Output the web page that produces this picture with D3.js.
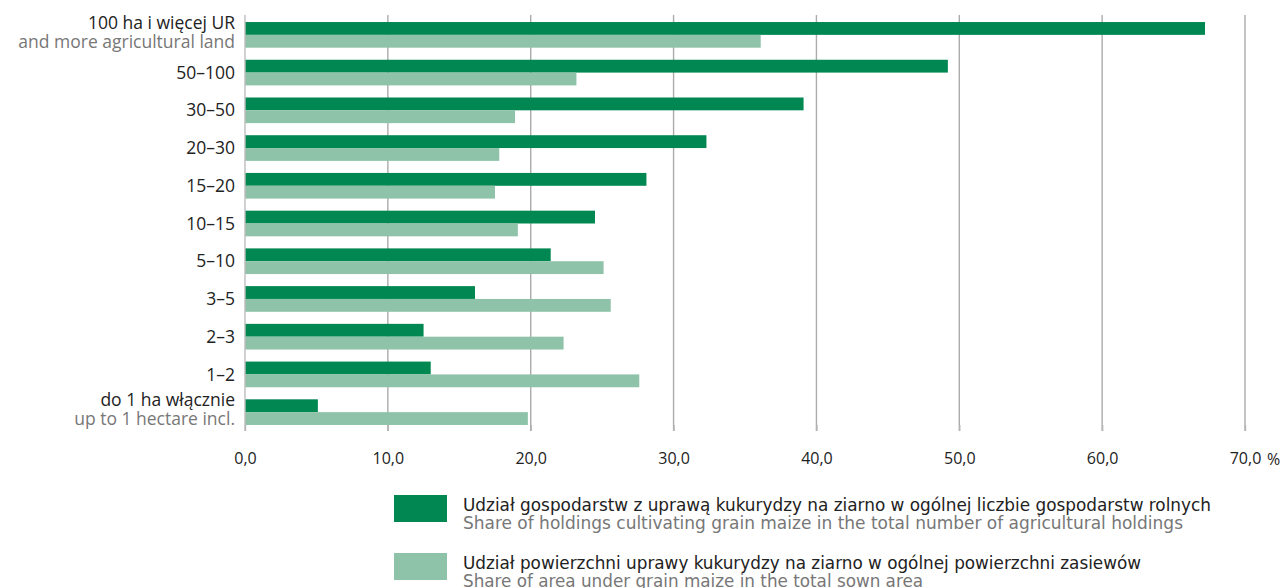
<!DOCTYPE html>
<html>
<head>
<meta charset="utf-8">
<script src="https://cdn.jsdelivr.net/npm/d3@7"></script>
<style>
  html, body { margin: 0; padding: 0; background: #fff; }
  svg { display: block; }
</style>
</head>
<body>
<svg id="chart" width="1284" height="588"></svg>
<script>
// Farm size groups (top to bottom); second line is the English gloss, if any
const categories = ["100+", "50–100", "30–50", "20–30", "15–20", "10–15", "5–10", "3–5", "2–3", "1–2", "do1"];
const labelMain = ["100 ha i więcej UR", "50–100", "30–50", "20–30", "15–20", "10–15", "5–10", "3–5", "2–3", "1–2", "do 1 ha włącznie"];
const labelSub = ["and more agricultural land", "", "", "", "", "", "", "", "", "", "up to 1 hectare incl."];

// Share of holdings growing grain maize, % of all agricultural holdings
const holdingsShare = [67.2, 49.2, 39.1, 32.3, 28.1, 24.5, 21.4, 16.1, 12.5, 13.0, 5.1];
// Share of grain maize area, % of total sown area
const areaShare = [36.1, 23.2, 18.9, 17.8, 17.5, 19.1, 25.1, 25.6, 22.3, 27.6, 19.8];

const tickValues = [0, 10, 20, 30, 40, 50, 60, 70];
const seriesKeys = ["holdings", "area"];
const legendMain = [
  "Udział gospodarstw z uprawą kukurydzy na ziarno w ogólnej liczbie gospodarstw rolnych",
  "Udział powierzchni uprawy kukurydzy na ziarno w ogólnej powierzchni zasiewów"
];
const legendSub = [
  "Share of holdings cultivating grain maize in the total number of agricultural holdings",
  "Share of area under grain maize in the total sown area"
];

const colors = { holdings: "#008752", area: "#8ec3a9" };

(function draw() {
  const svg = d3.select("#chart");
  const plotLeft = 245, plotRight = 1245, plotTop = 16, plotBottom = 431;

  const x = d3.scaleLinear().domain([0, 70]).range([plotLeft, plotRight]);
  const y = d3.scaleBand().domain(categories).range([plotTop, plotBottom])
    .paddingInner(0.32).paddingOuter(0.16);
  const y1 = d3.scaleBand().domain(seriesKeys).range([0, y.bandwidth()]);

  const rows = categories.map((c, i) => ({
    cat: c,
    values: [
      { key: "holdings", v: holdingsShare[i] },
      { key: "area", v: areaShare[i] }
    ]
  }));

  // vertical gridlines
  svg.append("g")
    .selectAll("line")
    .data(tickValues.slice(1))
    .join("line")
    .attr("x1", d => x(d)).attr("x2", d => x(d))
    .attr("y1", plotTop - 1).attr("y2", plotBottom)
    .attr("stroke", "#ababab")
    .attr("stroke-width", 1.4);

  // bars
  const groups = svg.append("g")
    .selectAll("g")
    .data(rows)
    .join("g")
    .attr("transform", d => `translate(0,${y(d.cat)})`);

  groups.selectAll("rect")
    .data(d => d.values)
    .join("rect")
    .attr("x", x(0))
    .attr("y", d => y1(d.key))
    .attr("width", d => x(d.v) - x(0))
    .attr("height", y1.bandwidth())
    .attr("fill", d => colors[d.key]);

  // left axis line
  svg.append("line")
    .attr("x1", x(0)).attr("x2", x(0))
    .attr("y1", plotTop - 1).attr("y2", plotBottom)
    .attr("stroke", "#bdbdbd").attr("stroke-width", 1.4);

  // bottom axis: ticks and labels only
  const xAxis = d3.axisBottom(x)
    .tickValues(tickValues)
    .tickSize(6)
    .tickPadding(22)
    .tickFormat(d => d3.format(".1f")(d).replace(".", ","));

  const gx = svg.append("g")
    .attr("transform", `translate(0,${plotBottom - 6})`)
    .call(xAxis);
  gx.select(".domain").remove();
  gx.selectAll(".tick line").attr("stroke", "#b5b5b5").attr("stroke-width", 1.4);
  gx.selectAll(".tick text")
    .attr("fill", "#222")
    .style("font-family", "'Open Sans', 'Noto Sans', sans-serif")
    .style("font-size", "16px");

  svg.append("text")
    .attr("x", 1267).attr("y", 465)
    .attr("fill", "#222")
    .style("font-family", "'Open Sans', 'Noto Sans', sans-serif")
    .style("font-size", "16px")
    .text("%");

  // category labels
  const labelFont = "'Open Sans', 'Noto Sans', sans-serif";
  const lab = svg.append("g")
    .selectAll("g")
    .data(categories)
    .join("g")
    .attr("transform", d => `translate(235,${y(d) + y.bandwidth() / 2})`);

  lab.append("text")
    .attr("text-anchor", "end")
    .attr("y", (d, i) => labelSub[i] ? -12 : 0)
    .attr("dy", "0.35em")
    .attr("fill", "#222")
    .style("font-family", labelFont)
    .style("font-size", "17.5px")
    .text((d, i) => labelMain[i]);

  lab.filter((d, i) => labelSub[i] !== "")
    .append("text")
    .attr("text-anchor", "end")
    .attr("y", 7)
    .attr("dy", "0.35em")
    .attr("fill", "#777")
    .style("font-family", labelFont)
    .style("font-size", "17.5px")
    .text(d => labelSub[categories.indexOf(d)]);

  // legend
  const legendFont = "'Liberation Sans Narrow', 'DejaVu Sans Condensed', 'Noto Sans', sans-serif";
  const legendWidths = [[748, 720], [678, 460]];
  const lg = svg.append("g")
    .selectAll("g")
    .data(seriesKeys)
    .join("g")
    .attr("transform", (d, i) => `translate(394,${495 + i * 58})`);

  lg.append("rect")
    .attr("width", 53).attr("height", 27)
    .attr("fill", d => colors[d]);

  lg.append("text")
    .attr("x", 69).attr("y", 16)
    .attr("fill", "#222")
    .style("font-family", legendFont)
    .style("font-size", "17px")
    .attr("textLength", (d, i) => legendWidths[i][0])
    .attr("lengthAdjust", "spacingAndGlyphs")
    .text((d, i) => legendMain[i]);

  lg.append("text")
    .attr("x", 69).attr("y", 34)
    .attr("fill", "#777")
    .style("font-family", legendFont)
    .style("font-size", "17px")
    .attr("textLength", (d, i) => legendWidths[i][1])
    .attr("lengthAdjust", "spacingAndGlyphs")
    .text((d, i) => legendSub[i]);
})();
</script>
</body>
</html>
